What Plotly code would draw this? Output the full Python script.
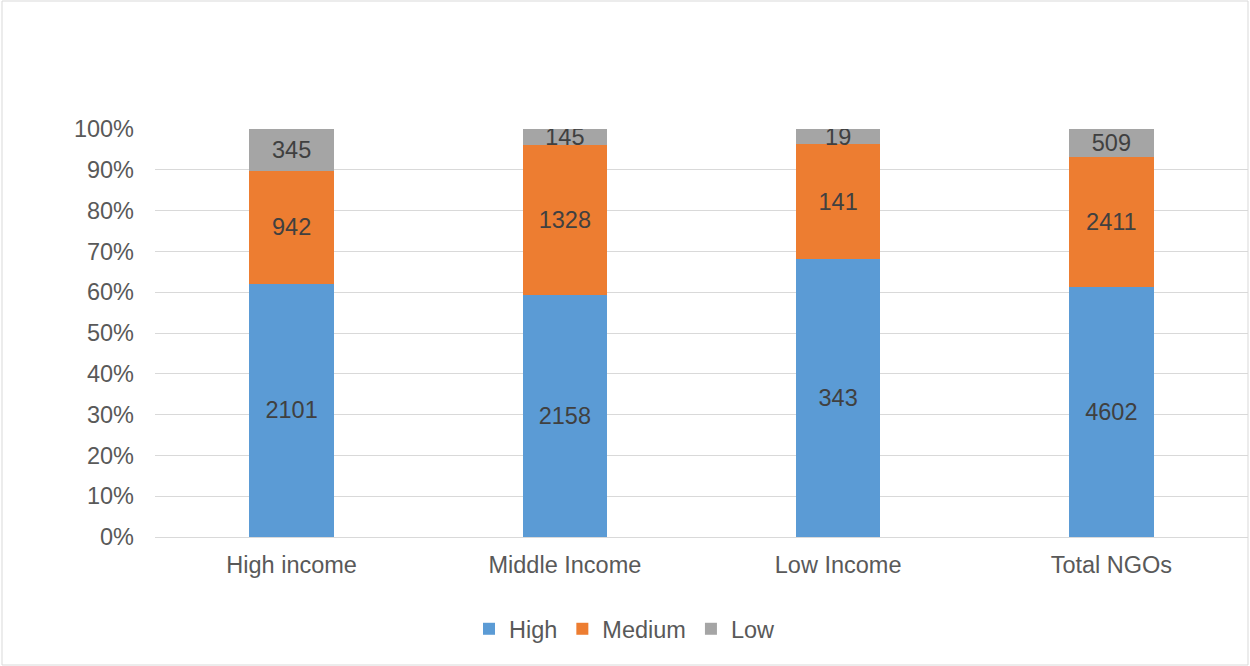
import plotly.graph_objects as go

categories = ["High income", "Middle Income", "Low Income", "Total NGOs"]
high = [2101, 2158, 343, 4602]
medium = [942, 1328, 141, 2411]
low = [345, 145, 19, 509]

W, H = 1250, 666
ML, MR, MT, MB = 155, 2, 129, 129
FS = 23.5
FONT = "Liberation Sans, Arial, sans-serif"

series = [("High", high, "#5B9BD5"), ("Medium", medium, "#ED7D31"), ("Low", low, "#A5A5A5")]

fig = go.Figure()
for name, vals, col in series:
    fig.add_trace(go.Bar(
        x=categories, y=vals, name=name, marker=dict(color=col, line=dict(width=0)),
        text=vals, texttemplate="%{text}", textposition="inside",
        insidetextanchor="middle", textangle=0,
        textfont=dict(color="#404040", size=FS, family=FONT),
        hoverinfo="skip",
    ))

pw = W - ML - MR
ph = H - MT - MB
def px2x(p):
    return (p - ML) / pw
def px2y(p):
    return (H - MB - p) / ph

fig.update_layout(
    width=W, height=H,
    margin=dict(l=ML, r=MR, t=MT, b=MB),
    barmode="stack", barnorm="percent", bargap=0.69,
    paper_bgcolor="white", plot_bgcolor="white",
    font=dict(family=FONT, size=FS, color="#595959"),
    uniformtext=dict(minsize=FS, mode="show"),
    showlegend=True,
    legend=dict(orientation="h", xref="container", yref="container", x=0.5, xanchor="center",
                y=1 - 629 / H, yanchor="middle", font=dict(size=FS, color="#595959"),
                itemwidth=30, traceorder="normal", tracegroupgap=0),
    xaxis=dict(showgrid=False, showline=True, linecolor="#D9D9D9", linewidth=1,
               ticks="", tickfont=dict(size=FS, color="#595959"), ticklabelstandoff=7),
    yaxis=dict(range=[0, 100], dtick=10, ticksuffix="%", showgrid=True, gridcolor="#D9D9D9",
               gridwidth=1, zeroline=False, showline=False, ticks="",
               tickfont=dict(size=FS, color="#595959"), ticklabelstandoff=20),
    shapes=[dict(type="rect", xref="paper", yref="paper",
                 x0=px2x(2), x1=px2x(1248), y0=px2y(665), y1=px2y(1),
                 line=dict(color="#D9D9D9", width=1), fillcolor="rgba(0,0,0,0)", layer="below")],
)

fig.write_html("out.html")
